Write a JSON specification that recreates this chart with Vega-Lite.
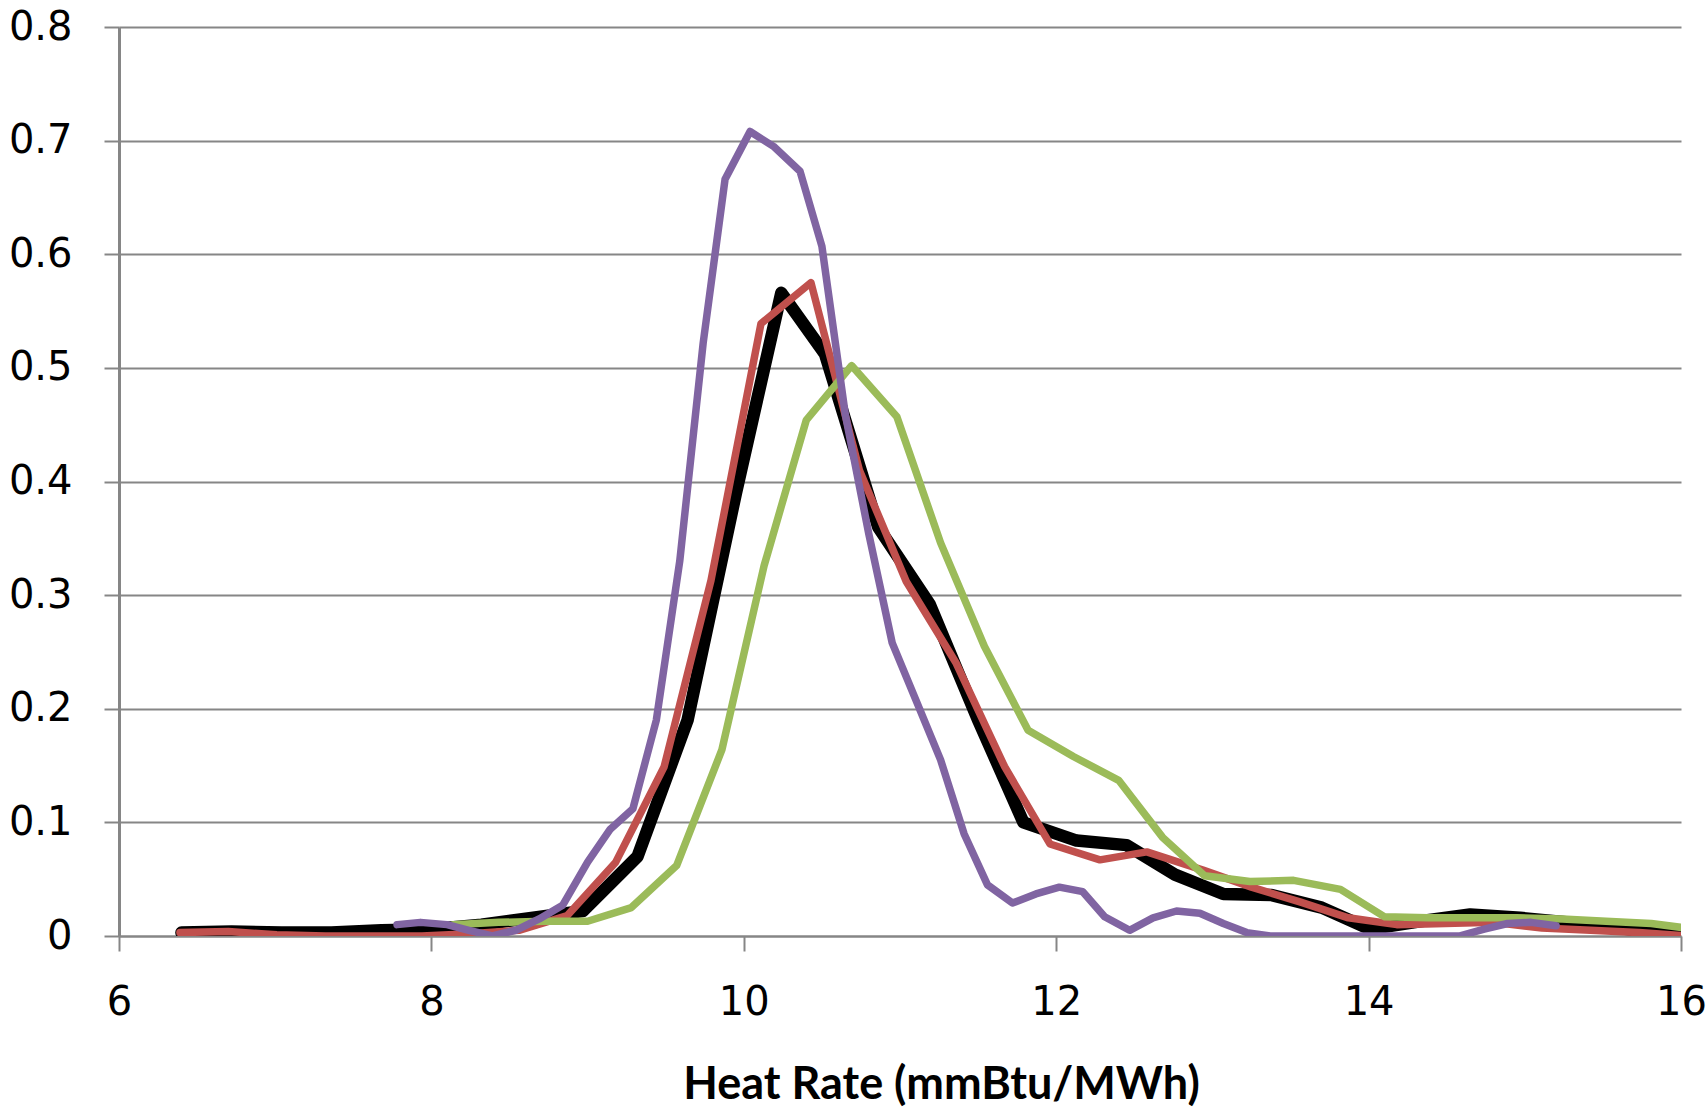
{
  "$schema": "https://vega.github.io/schema/vega-lite/v6.json",
  "width": 1562,
  "height": 909,
  "autosize": {"type": "none"},
  "padding": {"left": 119, "top": 27, "right": 27, "bottom": 172},
  "background": "white",
  "config": {"view": {"stroke": null}},
  "data": {
    "values": [
      {"s": "S1", "x": 6.40, "y": 0.003}, {"s": "S1", "x": 6.72, "y": 0.004}, {"s": "S1", "x": 7.04, "y": 0.003},
      {"s": "S1", "x": 7.36, "y": 0.003}, {"s": "S1", "x": 7.68, "y": 0.005}, {"s": "S1", "x": 8.00, "y": 0.006},
      {"s": "S1", "x": 8.32, "y": 0.010}, {"s": "S1", "x": 8.64, "y": 0.016}, {"s": "S1", "x": 8.97, "y": 0.022},
      {"s": "S1", "x": 9.32, "y": 0.070}, {"s": "S1", "x": 9.64, "y": 0.190}, {"s": "S1", "x": 9.95, "y": 0.390},
      {"s": "S1", "x": 10.24, "y": 0.566}, {"s": "S1", "x": 10.52, "y": 0.512}, {"s": "S1", "x": 10.86, "y": 0.360},
      {"s": "S1", "x": 11.19, "y": 0.292}, {"s": "S1", "x": 11.50, "y": 0.190}, {"s": "S1", "x": 11.79, "y": 0.100},
      {"s": "S1", "x": 12.13, "y": 0.084}, {"s": "S1", "x": 12.45, "y": 0.080}, {"s": "S1", "x": 12.76, "y": 0.054},
      {"s": "S1", "x": 13.07, "y": 0.037}, {"s": "S1", "x": 13.38, "y": 0.036}, {"s": "S1", "x": 13.70, "y": 0.025},
      {"s": "S1", "x": 14.01, "y": 0.006}, {"s": "S1", "x": 14.33, "y": 0.013}, {"s": "S1", "x": 14.65, "y": 0.019},
      {"s": "S1", "x": 14.97, "y": 0.016}, {"s": "S1", "x": 15.28, "y": 0.012}, {"s": "S1", "x": 15.60, "y": 0.007},
      {"s": "S1", "x": 15.92, "y": 0.002}, {"s": "S1", "x": 16.24, "y": 0.000},

      {"s": "S2", "x": 6.39, "y": 0.003}, {"s": "S2", "x": 6.70, "y": 0.004}, {"s": "S2", "x": 7.01, "y": 0.001},
      {"s": "S2", "x": 7.32, "y": 0.000}, {"s": "S2", "x": 7.63, "y": 0.000}, {"s": "S2", "x": 7.94, "y": 0.000},
      {"s": "S2", "x": 8.25, "y": 0.002}, {"s": "S2", "x": 8.56, "y": 0.005}, {"s": "S2", "x": 8.87, "y": 0.018},
      {"s": "S2", "x": 9.18, "y": 0.065}, {"s": "S2", "x": 9.49, "y": 0.149}, {"s": "S2", "x": 9.79, "y": 0.313},
      {"s": "S2", "x": 10.11, "y": 0.539}, {"s": "S2", "x": 10.43, "y": 0.575}, {"s": "S2", "x": 10.74, "y": 0.410},
      {"s": "S2", "x": 11.04, "y": 0.312}, {"s": "S2", "x": 11.36, "y": 0.240}, {"s": "S2", "x": 11.67, "y": 0.149},
      {"s": "S2", "x": 11.96, "y": 0.081}, {"s": "S2", "x": 12.28, "y": 0.067}, {"s": "S2", "x": 12.58, "y": 0.074},
      {"s": "S2", "x": 12.94, "y": 0.058}, {"s": "S2", "x": 13.25, "y": 0.043}, {"s": "S2", "x": 13.56, "y": 0.030},
      {"s": "S2", "x": 13.87, "y": 0.016}, {"s": "S2", "x": 14.18, "y": 0.010}, {"s": "S2", "x": 14.49, "y": 0.011},
      {"s": "S2", "x": 14.80, "y": 0.012}, {"s": "S2", "x": 15.11, "y": 0.007}, {"s": "S2", "x": 15.42, "y": 0.005},
      {"s": "S2", "x": 15.73, "y": 0.003}, {"s": "S2", "x": 16.04, "y": 0.000},

      {"s": "S3", "x": 8.14, "y": 0.010}, {"s": "S3", "x": 8.43, "y": 0.012}, {"s": "S3", "x": 8.72, "y": 0.013},
      {"s": "S3", "x": 9.00, "y": 0.013}, {"s": "S3", "x": 9.28, "y": 0.025}, {"s": "S3", "x": 9.57, "y": 0.062},
      {"s": "S3", "x": 9.86, "y": 0.164}, {"s": "S3", "x": 10.13, "y": 0.326}, {"s": "S3", "x": 10.40, "y": 0.454},
      {"s": "S3", "x": 10.69, "y": 0.502}, {"s": "S3", "x": 10.98, "y": 0.457}, {"s": "S3", "x": 11.26, "y": 0.346},
      {"s": "S3", "x": 11.54, "y": 0.255}, {"s": "S3", "x": 11.82, "y": 0.181}, {"s": "S3", "x": 12.11, "y": 0.158},
      {"s": "S3", "x": 12.40, "y": 0.137}, {"s": "S3", "x": 12.68, "y": 0.087}, {"s": "S3", "x": 12.95, "y": 0.053},
      {"s": "S3", "x": 13.24, "y": 0.048}, {"s": "S3", "x": 13.52, "y": 0.049}, {"s": "S3", "x": 13.82, "y": 0.041},
      {"s": "S3", "x": 14.10, "y": 0.017}, {"s": "S3", "x": 14.38, "y": 0.016}, {"s": "S3", "x": 14.67, "y": 0.016},
      {"s": "S3", "x": 14.95, "y": 0.016}, {"s": "S3", "x": 15.24, "y": 0.015}, {"s": "S3", "x": 15.52, "y": 0.013},
      {"s": "S3", "x": 15.81, "y": 0.011}, {"s": "S3", "x": 16.09, "y": 0.006},

      {"s": "S4", "x": 7.78, "y": 0.010}, {"s": "S4", "x": 7.93, "y": 0.012}, {"s": "S4", "x": 8.10, "y": 0.010},
      {"s": "S4", "x": 8.24, "y": 0.005}, {"s": "S4", "x": 8.39, "y": 0.000}, {"s": "S4", "x": 8.54, "y": 0.005},
      {"s": "S4", "x": 8.69, "y": 0.015}, {"s": "S4", "x": 8.84, "y": 0.027}, {"s": "S4", "x": 9.00, "y": 0.065},
      {"s": "S4", "x": 9.145, "y": 0.094}, {"s": "S4", "x": 9.29, "y": 0.112}, {"s": "S4", "x": 9.44, "y": 0.190},
      {"s": "S4", "x": 9.59, "y": 0.330}, {"s": "S4", "x": 9.74, "y": 0.522}, {"s": "S4", "x": 9.88, "y": 0.666},
      {"s": "S4", "x": 10.04, "y": 0.708}, {"s": "S4", "x": 10.19, "y": 0.695}, {"s": "S4", "x": 10.36, "y": 0.673},
      {"s": "S4", "x": 10.50, "y": 0.607}, {"s": "S4", "x": 10.65, "y": 0.459}, {"s": "S4", "x": 10.80, "y": 0.354},
      {"s": "S4", "x": 10.95, "y": 0.258}, {"s": "S4", "x": 11.11, "y": 0.205}, {"s": "S4", "x": 11.26, "y": 0.155},
      {"s": "S4", "x": 11.41, "y": 0.090}, {"s": "S4", "x": 11.56, "y": 0.045}, {"s": "S4", "x": 11.72, "y": 0.029},
      {"s": "S4", "x": 11.87, "y": 0.037}, {"s": "S4", "x": 12.02, "y": 0.043}, {"s": "S4", "x": 12.17, "y": 0.039},
      {"s": "S4", "x": 12.31, "y": 0.017}, {"s": "S4", "x": 12.47, "y": 0.005}, {"s": "S4", "x": 12.62, "y": 0.016},
      {"s": "S4", "x": 12.77, "y": 0.022}, {"s": "S4", "x": 12.92, "y": 0.020}, {"s": "S4", "x": 13.07, "y": 0.011},
      {"s": "S4", "x": 13.22, "y": 0.003}, {"s": "S4", "x": 13.37, "y": 0.000}, {"s": "S4", "x": 13.52, "y": 0.000},
      {"s": "S4", "x": 13.67, "y": 0.000}, {"s": "S4", "x": 13.82, "y": 0.000}, {"s": "S4", "x": 13.97, "y": 0.000},
      {"s": "S4", "x": 14.12, "y": 0.000}, {"s": "S4", "x": 14.27, "y": 0.000}, {"s": "S4", "x": 14.42, "y": 0.000},
      {"s": "S4", "x": 14.58, "y": 0.000}, {"s": "S4", "x": 14.74, "y": 0.006}, {"s": "S4", "x": 14.89, "y": 0.011},
      {"s": "S4", "x": 15.04, "y": 0.012}, {"s": "S4", "x": 15.20, "y": 0.009}
    ]
  },
  "encoding": {
    "x": {
      "field": "x", "type": "quantitative",
      "scale": {"domain": [6, 16], "nice": false, "zero": false},
      "axis": {
        "values": [6, 8, 10, 12, 14, 16],
        "grid": false,
        "domainColor": "#868686", "domainWidth": 2,
        "tickColor": "#868686", "tickWidth": 2, "tickSize": 15,
        "labelFont": "DejaVu Sans", "labelFontSize": 40, "labelColor": "#000000",
        "labelPadding": 63, "labelBaseline": "alphabetic",
        "labelFlush": false, "labelOverlap": false, "labelBound": false,
        "title": "Heat Rate (mmBtu/MWh)",
        "titleFont": "Lato", "titleFontWeight": "bold", "titleFontSize": 45, "titleColor": "#000000",
        "titleX": 822, "titleY": 162, "titleAlign": "center", "titleBaseline": "alphabetic"
      }
    },
    "y": {
      "field": "y", "type": "quantitative",
      "scale": {"domain": [0, 0.8], "nice": false},
      "axis": {
        "values": [0, 0.1, 0.2, 0.3, 0.4, 0.5, 0.6, 0.7, 0.8],
        "labelExpr": "datum.value == 0 ? '0' : format(datum.value, '.1f')",
        "grid": true, "gridColor": "#868686", "gridWidth": 2,
        "domainColor": "#868686", "domainWidth": 3,
        "tickColor": "#868686", "tickWidth": 2, "tickSize": 15,
        "labelFont": "DejaVu Sans", "labelFontSize": 40, "labelColor": "#000000",
        "labelPadding": 32, "labelFlush": false, "labelOverlap": false, "labelBound": false,
        "title": null
      }
    }
  },
  "layer": [
    {
      "transform": [{"filter": {"field": "s", "equal": "S1"}}],
      "mark": {"type": "line", "color": "#000000", "strokeWidth": 12.5, "strokeJoin": "round", "strokeCap": "round", "clip": true}
    },
    {
      "transform": [{"filter": {"field": "s", "equal": "S2"}}],
      "mark": {"type": "line", "color": "#C0504D", "strokeWidth": 7.5, "strokeJoin": "round", "strokeCap": "round", "clip": true}
    },
    {
      "transform": [{"filter": {"field": "s", "equal": "S3"}}],
      "mark": {"type": "line", "color": "#9BBB59", "strokeWidth": 7.5, "strokeJoin": "round", "strokeCap": "round", "clip": true}
    },
    {
      "transform": [{"filter": {"field": "s", "equal": "S4"}}],
      "mark": {"type": "line", "color": "#8064A2", "strokeWidth": 7.5, "strokeJoin": "round", "strokeCap": "round", "clip": true}
    }
  ]
}
